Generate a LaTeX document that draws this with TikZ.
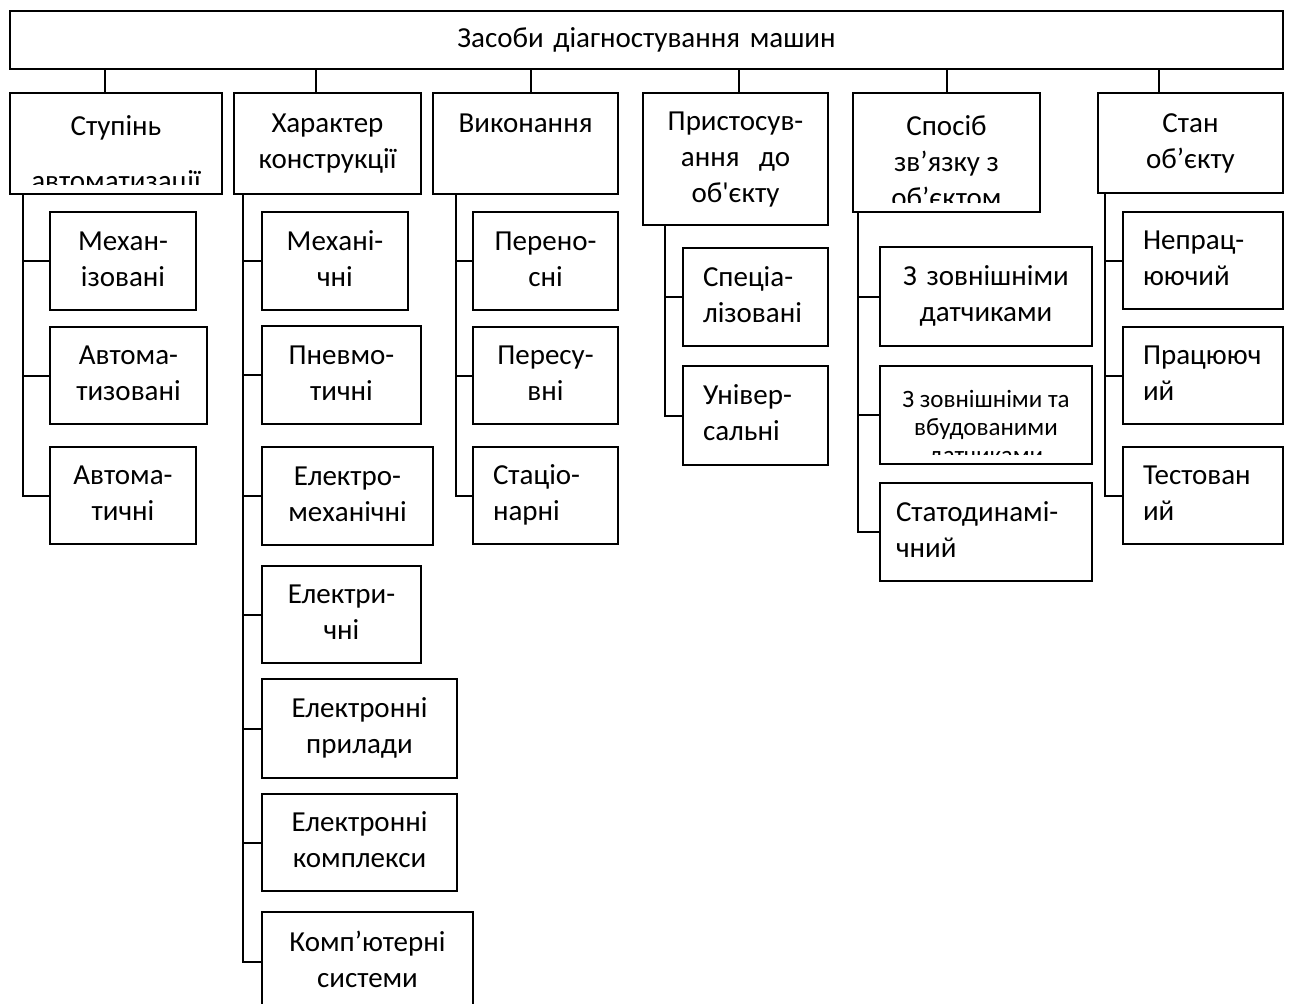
\documentclass[tikz,border=0pt]{standalone}
\usepackage{fontspec}
\setmainfont{Carlito}[Ligatures=TeXOff]
\def\px{0.5pt}
\tikzset{
  box/.style 2 args={draw, line width=1pt, anchor=north west, inner ysep=0pt, inner xsep=10pt,
    minimum width=#1*\px, minimum height=#2*\px, text width=#1*\px-20pt, align=center,
    execute at begin node=\strut, execute at end node=\strut},
  lbox/.style 2 args={box={#1}{#2}, align=left},
  frame/.style 2 args={draw, line width=1pt, anchor=north west, inner sep=0pt,
    minimum width=#1*\px, minimum height=#2*\px},
  txt/.style={inner sep=0pt, align=center, anchor=north,
    execute at begin node=\strut, execute at end node=\strut},
  link/.style={line width=1pt},
}
\begin{document}
\begin{tikzpicture}[x=\px, y=-\px, every node/.style={font=\fontsize{14.5pt}{18pt}\selectfont}]
    \useasboundingbox (0,0) rectangle (1289,1003);
    % root
    \node[box={1273}{58}] (top) at (9,10) {Засоби діагностування машин};
    % level 1
    \node[frame={212}{101}, path picture={
        \clip ([yshift=10*\px]path picture bounding box.south west) rectangle (path picture bounding box.north east);
        \node[txt] at ([yshift=-14*\px]path picture bounding box.north) {Ступінь\\[9.5pt]автоматизації};}] (c1) at (9,92) {};
    \node[box={187}{101}] (c2) at (233,92) {Характер\\конструкції};
    \node[box={185}{101}] (c3) at (432,92) {Виконання\\\mbox{}};
    \node[box={185}{132}] (c4) at (642,92) {Пристосув-\\ання\ \ до\\об'єкту};
    \node[frame={187}{119}, path picture={
        \clip ([yshift=10*\px]path picture bounding box.south west) rectangle (path picture bounding box.north east);
        \node[txt] at ([yshift=-13*\px]path picture bounding box.north) {Спосіб\\зв’язку з\\об’єктом};}] (c5) at (852,92) {};
    \node[box={185}{100}] (c6) at (1097,92) {Стан\\об’єкту};
    \draw[link] (105,0 |- top.south) -- (105,0 |- c1.north);
    \draw[link] (316,0 |- top.south) -- (316,0 |- c2.north);
    \draw[link] (531,0 |- top.south) -- (531,0 |- c3.north);
    \draw[link] (739,0 |- top.south) -- (739,0 |- c4.north);
    \draw[link] (947,0 |- top.south) -- (947,0 |- c5.north);
    \draw[link] (1159,0 |- top.south) -- (1159,0 |- c6.north);
    % column 1
    \node[box={146}{98}] (s11) at (49,211) {Механ-\\ізовані};
    \node[box={157}{97}] (s12) at (49,326) {Автома-\\тизовані};
    \node[box={146}{97}] (s13) at (49,446) {Автома-\\тичні};
    \coordinate (t1) at (23,0 |- c1.south);
    \draw[link] (t1) |- (s13.west);
    \draw[link] (s11.west) -- (s11.west -| t1);
    \draw[link] (s12.west) -- (s12.west -| t1);
    % column 2
    \node[box={146}{98}] (s21) at (261,211) {Механі-\\чні};
    \node[box={159}{98}] (s22) at (261,325) {Пневмо-\\тичні};
    \node[box={171}{98}] (s23) at (261,446) {Електро-\\механічні};
    \node[box={159}{97}] (s24) at (261,565) {Електри-\\чні};
    \node[box={195}{99}] (s25) at (261,678) {Електронні\\прилади};
    \node[box={195}{97}] (s26) at (261,793) {Електронні\\комплекси};
    \node[box={211}{100}] (s27) at (261,911) {Комп’ютерні\\системи};
    \coordinate (t2) at (243,0 |- c2.south);
    \draw[link] (t2) |- (s27.west);
    \draw[link] (s21.west) -- (s21.west -| t2);
    \draw[link] (s22.west) -- (s22.west -| t2);
    \draw[link] (s23.west) -- (s23.west -| t2);
    \draw[link] (s24.west) -- (s24.west -| t2);
    \draw[link] (s25.west) -- (s25.west -| t2);
    \draw[link] (s26.west) -- (s26.west -| t2);
    % column 3
    \node[box={145}{98}] (s31) at (472,211) {Перено-\\сні};
    \node[box={145}{97}] (s32) at (472,326) {Пересу-\\вні};
    \node[lbox={145}{97}] (s33) at (472,446) {Стаціо-\\нарні};
    \coordinate (t3) at (456,0 |- c3.south);
    \draw[link] (t3) |- (s33.west);
    \draw[link] (s31.west) -- (s31.west -| t3);
    \draw[link] (s32.west) -- (s32.west -| t3);
    % column 4
    \node[lbox={145}{98}] (s41) at (682,247) {Спеціа-\\лізовані};
    \node[lbox={145}{99}] (s42) at (682,365) {Універ-\\сальні};
    \coordinate (t4) at (665,0 |- c4.south);
    \draw[link] (t4) |- (s42.west);
    \draw[link] (s41.west) -- (s41.west -| t4);
    % column 5
    \node[box={212}{99}] (s51) at (879,246) {З зовнішніми\\датчиками};
    \node[frame={212}{98}, path picture={
        \clip ([yshift=10*\px]path picture bounding box.south west) rectangle (path picture bounding box.north east);
        \node[txt, font=\fontsize{12.5pt}{14pt}\selectfont] at ([yshift=-15*\px]path picture bounding box.north) {З зовнішніми та\\вбудованими\\датчиками};}] (s52) at (879,365) {};
    \node[lbox={212}{98}, inner xsep=8pt, text width=212*\px-16pt] (s53) at (879,482) {Статодинамі-\\чний};
    \coordinate (t5) at (858,0 |- c5.south);
    \draw[link] (t5) |- (s53.west);
    \draw[link] (s51.west) -- (s51.west -| t5);
    \draw[link] (s52.west) -- (s52.west -| t5);
    % column 6
    \node[lbox={160}{97}] (s61) at (1122,211) {Непрац-\\юючий};
    \node[lbox={160}{97}] (s62) at (1122,326) {Працююч\\ий};
    \node[lbox={160}{97}] (s63) at (1122,446) {Тестован\\ий};
    \coordinate (t6) at (1105,0 |- c6.south);
    \draw[link] (t6) |- (s63.west);
    \draw[link] (s61.west) -- (s61.west -| t6);
    \draw[link] (s62.west) -- (s62.west -| t6);
\end{tikzpicture}
\end{document}
